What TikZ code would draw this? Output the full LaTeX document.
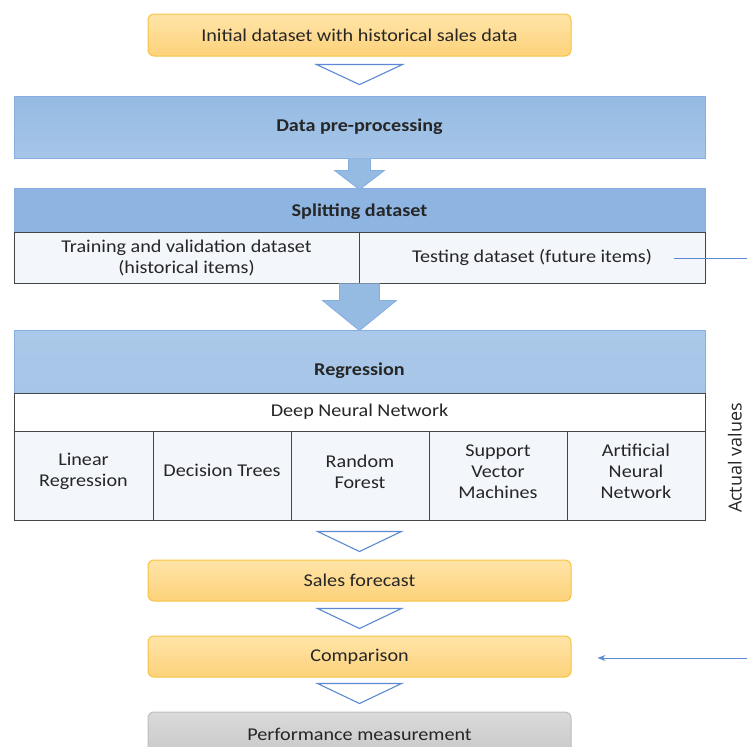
\documentclass[tikz,border=0pt]{standalone}
\usepackage{fontspec}
\setmainfont{Carlito}[FakeStretch=1.12]
\newfontfamily\labelfont{Open Sans}
\usetikzlibrary{calc,arrows.meta}

\definecolor{txt}{HTML}{262626}
\definecolor{orangeTop}{HTML}{FFE4A8}
\definecolor{orangeBot}{HTML}{FDD27A}
\definecolor{orangeLine}{HTML}{F6C445}
\definecolor{blueA}{HTML}{95BBE3}
\definecolor{blueB}{HTML}{A6C5E8}
\definecolor{blueSplit}{HTML}{8EB4E2}
\definecolor{blueLine}{HTML}{86AEDF}
\definecolor{cellFill}{HTML}{F3F6FB}
\definecolor{cellLine}{HTML}{454545}
\definecolor{chevron}{HTML}{5B8AD2}
\definecolor{grayTop}{HTML}{DADADA}
\definecolor{grayBot}{HTML}{C8C8C8}
\definecolor{grayLine}{HTML}{BDBDBD}

\tikzset{
  every node/.style={text=txt, font=\fontsize{18}{21}\selectfont, inner sep=0pt, align=center},
  stepbox/.style={rounded corners=6pt, draw=orangeLine, line width=1pt,
    top color=orangeTop, bottom color=orangeBot, minimum width=423pt, minimum height=41pt},
  endbox/.style={rounded corners=6pt, draw=grayLine, line width=1pt,
    top color=grayTop, bottom color=grayBot, minimum width=423pt, minimum height=44pt},
  bandbox/.style={draw=blueLine, line width=0.8pt, minimum width=691pt},
  cellbox/.style={draw=cellLine, line width=0.9pt, fill=cellFill},
  methodcell/.style={cellbox, minimum width=138pt, minimum height=89pt},
  chev/.style={draw=chevron, line width=1.1pt, fill=white, line join=miter},
  blockarrow/.style={draw=blueLine, line width=0.8pt, fill=blueA},
  feed/.style={draw=chevron, line width=1pt},
}

\begin{document}
\begin{tikzpicture}[x=1pt,y=-1pt]
\useasboundingbox (0,0) rectangle (747,747);

% input box
\node[stepbox, minimum height=42pt] (init) at (359.5,35) {Initial dataset with historical sales data};

% pre-processing band
\node[bandbox, top color=blueA, bottom color=blueB, minimum height=62pt] (pre) at (359.5,127) {\bfseries Data pre-processing};

% splitting band with its two cells
\node[bandbox, fill=blueSplit, minimum height=44pt] (split) at (359.5,210) {};
\node (splitT) at ($(split.center)+(0,2)$) {\bfseries Splitting dataset};
\node[cellbox, minimum width=345pt, minimum height=51pt] (train) at (186.5,257.5)
  {Training and validation dataset\\(historical items)};
\node[cellbox, minimum width=346pt, minimum height=51pt] (test) at (532,257.5)
  {Testing dataset (future items)};

% regression band and the methods it covers
\node[bandbox, top color=blueA!80!white, bottom color=blueB, minimum height=63pt] (reg) at (359.5,361.5) {};
\node (regT) at ($(reg.center)+(0,9)$) {\bfseries Regression};
\node[draw=cellLine, line width=0.9pt, fill=white, minimum width=691pt, minimum height=38pt] (dnn) at (359.5,412) {Deep Neural Network};
\node[methodcell, minimum width=139pt] (lr) at (83.5,475.5) {};
\node[methodcell] (dt)  at (222,475.5) {};
\node[methodcell] (rf)  at (360,475.5) {};
\node[methodcell] (svm) at (498,475.5) {};
\node[methodcell] (ann) at (636,475.5) {};
\node (lrT)  at ($(lr.center)+(0,-4)$)  {Linear\\Regression};
\node (dtT)  at ($(dt.center)+(0,-5)$)  {Decision Trees};
\node (rfT)  at ($(rf.center)+(0,-4)$)  {Random\\Forest};
\node (svmT) at ($(svm.center)+(0,-4)$) {Support\\Vector\\Machines};
\node (annT) at ($(ann.center)+(0,-4)$) {Artificial\\Neural\\Network};

% output boxes
\node[stepbox] (fc)   at (359.5,580.5) {Sales forecast};
\node[stepbox] (comp) at (359.5,656.5) {Comparison};
\node[endbox]  (perf) at (359.5,734)   {Performance measurement};

% hollow chevrons between steps
\draw[chev] ($(init.south)+(-43,8)$) -- ($(init.south)+(43,8)$) -- ($(pre.north)+(0,-11)$) -- cycle;
\draw[chev] ($(dnn.south)+(-42,100)$) -- ($(dnn.south)+(42,100)$) -- ($(fc.north)+(0,-8)$) -- cycle;
\draw[chev] ($(fc.south)+(-42,7)$) -- ($(fc.south)+(42,7)$) -- ($(comp.north)+(0,-7)$) -- cycle;
\draw[chev] ($(comp.south)+(-42,6)$) -- ($(comp.south)+(42,6)$) -- ($(perf.north)+(0,-8)$) -- cycle;

% block arrows
\draw[blockarrow] ($(pre.south)+(-11,0)$) -- ($(pre.south)+(-11,12)$) -- ($(pre.south)+(-25,12)$)
  -- ($(split.north)+(0,2)$) -- ($(pre.south)+(25,12)$) -- ($(pre.south)+(11,12)$) -- ($(pre.south)+(11,0)$);
\draw[blockarrow] ($(train.south east)+(-20,0)$) -- ($(train.south east)+(-20,17)$) -- ($(train.south east)+(-37,17)$)
  -- ($(reg.north)+(0,1)$) -- ($(train.south east)+(37,17)$) -- ($(train.south east)+(20,17)$) -- ($(train.south east)+(20,0)$);

% actual values fed back to the comparison
\coordinate (tstart) at ($(test.east)+(-31,0.5)$);
\coordinate (edge) at (762,258);
\draw[feed, -{Stealth[length=8pt,width=6pt]}] (tstart) -- (edge) |- ($(comp.east)+(26,1.5)$);
\node[font=\labelfont\fontsize{18}{22}\selectfont, rotate=90, anchor=base] (actual) at (741.5,458) {Actual values};
\end{tikzpicture}
\end{document}
